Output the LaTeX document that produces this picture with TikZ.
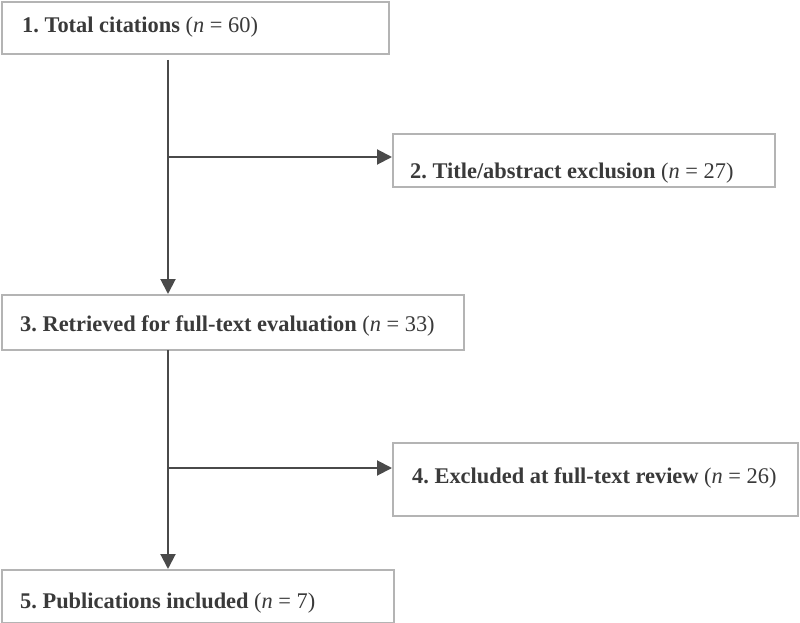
\documentclass[tikz,border=0pt]{standalone}
\usepackage{fontspec}
\setmainfont{Liberation Serif}
\usetikzlibrary{arrows.meta}
\definecolor{boxgray}{HTML}{B4B4B4}
\definecolor{linegray}{HTML}{4A4A4A}
\definecolor{txtgray}{HTML}{3A3A3A}
\tikzset{
  boxnode/.style={draw=boxgray, line width=2pt, fill=white, inner sep=0pt, anchor=north west},
  txtnode/.style={anchor=base west, inner sep=0pt, text=txtgray, font=\fontsize{22.4}{27}\selectfont},
  flow/.style={draw=linegray, line width=2pt},
  flowarrow/.style={flow, -{Triangle[length=15pt,width=15pt]}}
}
\newcommand{\nval}[1]{\textmd{(\textit{n} = #1)}}
\frenchspacing
\begin{document}
\begin{tikzpicture}[x=1pt,y=-1pt]
\useasboundingbox (0,0) rectangle (800,623);
% boxes
\node[boxnode, minimum width=387pt, minimum height=52pt] (b1) at (1,1) {};
\node[boxnode, minimum width=382pt, minimum height=53pt] (b2) at (392,133) {};
\node[boxnode, minimum width=462pt, minimum height=55pt] (b3) at (1,294) {};
\node[boxnode, minimum width=405pt, minimum height=73pt] (b4) at (392,442) {};
\node[boxnode, minimum width=392pt, minimum height=53pt] (b5) at (1,569) {};
% texts
\node[txtnode] (t1) at (22,33) {\textbf{1. Total citations} \nval{60}};
\node[txtnode] (t2) at (410,178) {\textbf{2. Title/abstract exclusion} \nval{27}};
\node[txtnode] (t3) at (20,331) {\textbf{3. Retrieved for full-text evaluation} \nval{33}};
\node[txtnode] (t4) at (412,483) {\textbf{4. Excluded at full-text review} \nval{26}};
\node[txtnode] (t5) at (20,608) {\textbf{5. Publications included} \nval{7}};
% connectors
\coordinate (s1) at (168,60);
\coordinate (j1) at (168,157);
\coordinate (s2) at (168,350);
\coordinate (j2) at (168,468);
\draw[flowarrow] (s1) -- (s1 |- b3.north);
\draw[flowarrow] (j1) -- (j1 -| b2.west);
\draw[flowarrow] (s2) -- (s2 |- b5.north);
\draw[flowarrow] (j2) -- (j2 -| b4.west);
\end{tikzpicture}
\end{document}
